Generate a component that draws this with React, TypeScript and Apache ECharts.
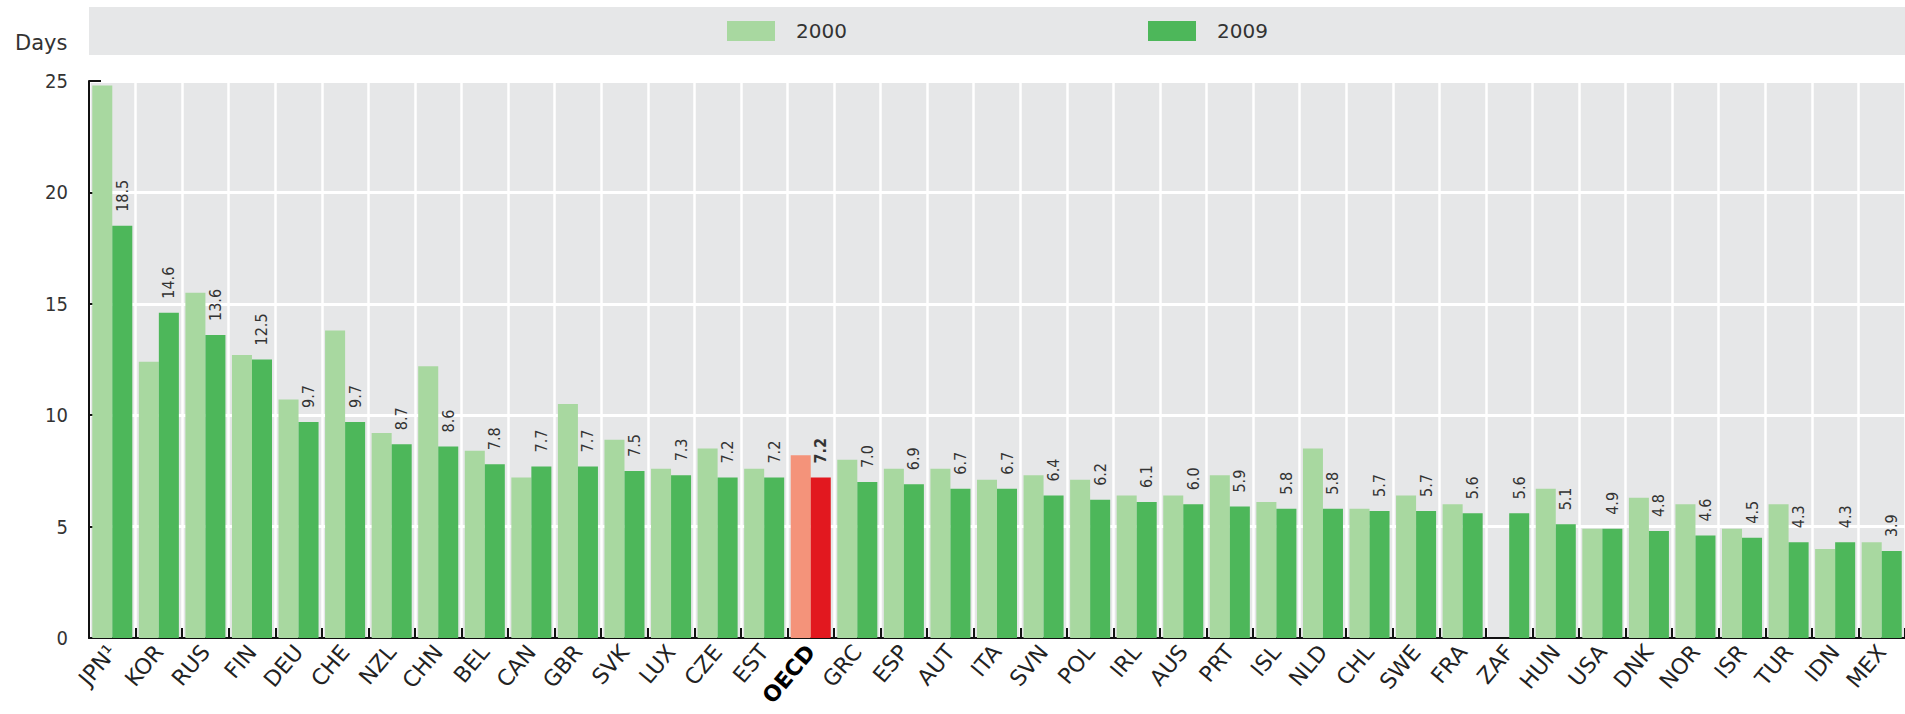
import React, { useEffect, useRef } from "react";
import * as echarts from "echarts";

const categories = ["JPN¹", "KOR", "RUS", "FIN", "DEU", "CHE", "NZL", "CHN", "BEL", "CAN", "GBR", "SVK", "LUX", "CZE", "EST", "OECD", "GRC", "ESP", "AUT", "ITA", "SVN", "POL", "IRL", "AUS", "PRT", "ISL", "NLD", "CHL", "SWE", "FRA", "ZAF", "HUN", "USA", "DNK", "NOR", "ISR", "TUR", "IDN", "MEX"];
const values2000 = [24.8, 12.4, 15.5, 12.7, 10.7, 13.8, 9.2, 12.2, 8.4, 7.2, 10.5, 8.9, 7.6, 8.5, 7.6, 8.2, 8.0, 7.6, 7.6, 7.1, 7.3, 7.1, 6.4, 6.4, 7.3, 6.1, 8.5, 5.8, 6.4, 6.0, null, 6.7, 4.9, 6.3, 6.0, 4.9, 6.0, 4.0, 4.3];
const values2009 = [18.5, 14.6, 13.6, 12.5, 9.7, 9.7, 8.7, 8.6, 7.8, 7.7, 7.7, 7.5, 7.3, 7.2, 7.2, 7.2, 7.0, 6.9, 6.7, 6.7, 6.4, 6.2, 6.1, 6.0, 5.9, 5.8, 5.8, 5.7, 5.7, 5.6, 5.6, 5.1, 4.9, 4.8, 4.6, 4.5, 4.3, 4.3, 3.9];
const seriesNames = ["2000", "2009"];
const highlightCategory = "OECD";
const yMin = 0;
const yMax = 25;
const yInterval = 5;
const yUnit = "Days";

const FONT = "'DejaVu Sans', 'Liberation Sans', sans-serif";
const FONT_COND = "'DejaVu Sans Condensed', 'Liberation Sans Narrow', 'DejaVu Sans', sans-serif";
const LIGHT = "#a8d8a0";
const DARK = "#4db75a";
const LIGHT_HL = "#f4937a";
const DARK_HL = "#e2181f";
const BG = "#e6e7e8";

export default function App() {
  const ref = useRef<HTMLDivElement>(null);
  useEffect(() => {
    if (!ref.current) return;
    const chart = echarts.init(ref.current, null, { renderer: "svg" });
    const d2000 = values2000.map((v, i) =>
      categories[i] === highlightCategory ? { value: v, itemStyle: { color: LIGHT_HL } } : v
    );
    const d2009 = values2009.map((v, i) =>
      categories[i] === highlightCategory
        ? { value: v, itemStyle: { color: DARK_HL }, label: { fontWeight: "bold" } }
        : v
    );
    const legendCommon = {
      top: 21,
      padding: 0,
      z: 5,
      itemWidth: 48,
      itemHeight: 20,
      icon: "rect",
      textStyle: { fontSize: 20, color: "#333", fontFamily: FONT, padding: [0, 0, 0, 16] },
    };
    chart.setOption({
      animation: false,
      textStyle: { fontFamily: FONT },
      graphic: [
        {
          type: "rect",
          z: 0,
          shape: { x: 89, y: 7, width: 1816, height: 48 },
          style: { fill: BG },
        },
        {
          type: "text",
          z: 1,
          x: 15,
          y: 43,
          style: { text: yUnit, fontSize: 21, fill: "#333", fontFamily: FONT, verticalAlign: "middle" },
        },
      ],
      legend: [
        { ...legendCommon, data: [seriesNames[0]], left: 727 },
        { ...legendCommon, data: [seriesNames[1]], left: 1148 },
      ],
      grid: {
        left: 89,
        right: -5,
        top: 81,
        bottom: 76,
        show: true,
        backgroundColor: BG,
        borderWidth: 0,
        containLabel: false,
      },
      xAxis: {
        type: "category",
        data: categories,
        boundaryGap: true,
        axisLine: { show: true, lineStyle: { color: "#111", width: 2 } },
        axisTick: { show: true, inside: true, length: 10, lineStyle: { color: "#111", width: 2 } },
        splitLine: { show: true, lineStyle: { color: "#ffffff", width: 2.5 } },
        axisLabel: {
          interval: 0,
          rotate: 50,
          margin: 10,
          fontSize: 22,
          color: "#222",
          fontFamily: FONT,
          formatter: (v: string) => (v === highlightCategory ? `{b|${v}}` : `{a|${v}}`),
          rich: {
            a: { fontSize: 22, color: "#222", fontFamily: FONT },
            b: { fontSize: 22, color: "#000", fontFamily: FONT, fontWeight: "bold" },
          },
        },
      },
      yAxis: {
        type: "value",
        min: yMin,
        max: yMax,
        interval: yInterval,
        axisLine: { show: true, lineStyle: { color: "#111", width: 2 } },
        axisTick: { show: true, inside: true, length: 12, lineStyle: { color: "#111", width: 2 } },
        splitLine: { show: true, lineStyle: { color: "#ffffff", width: 3 } },
        axisLabel: { fontSize: 20, color: "#333", margin: 21, fontFamily: FONT_COND },
      },
      series: [
        {
          name: seriesNames[0],
          type: "bar",
          data: d2000,
          itemStyle: { color: LIGHT },
          barGap: "0%",
          barCategoryGap: "14%",
          z: 3,
        },
        {
          name: seriesNames[1],
          type: "bar",
          data: d2009,
          itemStyle: { color: DARK },
          barGap: "0%",
          barCategoryGap: "14%",
          z: 3,
          label: {
            show: true,
            position: "top",
            rotate: 90,
            align: "left",
            verticalAlign: "middle",
            distance: 14,
            fontSize: 16,
            color: "#333",
            fontFamily: FONT_COND,
            formatter: (p: any) => Number(p.value).toFixed(1),
          },
        },
      ],
    });
    return () => chart.dispose();
  }, []);
  return (
    <div
      ref={ref}
      style={{ position: "fixed", left: 0, top: 0, width: 1905, height: 714, background: "#fff" }}
    />
  );
}
